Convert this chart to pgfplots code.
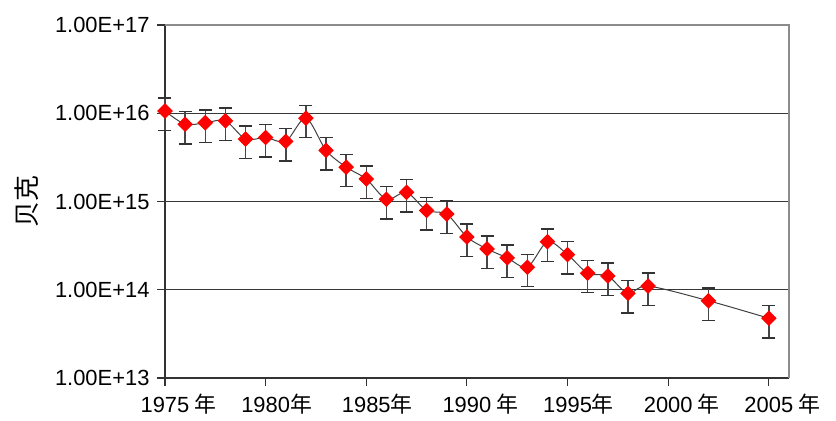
\documentclass[border=0pt]{standalone}
\usepackage{fontspec}
\setmainfont{Liberation Sans}
\newfontfamily\cjk{Noto Sans CJK SC}
\usepackage{pgfplots}
\pgfplotsset{compat=1.18}
\usepackage{pgfplotstable}

\pgfplotstableread{
x y e
1975 1.06e16 0.4
1976 7.5e15 0.4
1977 7.8e15 0.4
1978 8.2e15 0.4
1979 5.1e15 0.4
1980 5.3e15 0.4
1981 4.8e15 0.4
1982 8.8e15 0.4
1983 3.8e15 0.4
1984 2.45e15 0.4
1985 1.8e15 0.4
1986 1.06e15 0.4
1987 1.27e15 0.4
1988 7.9e14 0.4
1989 7.2e14 0.4
1990 3.96e14 0.4
1991 2.9e14 0.4
1992 2.3e14 0.4
1993 1.8e14 0.4
1994 3.5e14 0.4
1995 2.5e14 0.4
1996 1.54e14 0.4
1997 1.43e14 0.4
1998 9.1e13 0.4
1999 1.1e14 0.4
2002 7.5e13 0.4
2005 4.75e13 0.4
}\data

\begin{document}
\begin{tikzpicture}
\useasboundingbox (-165bp,-43bp) rectangle (671bp,378bp);
\begin{axis}[
  at={(0,0)}, anchor=south west,
  scale only axis, width=624bp, height=353bp,
  ymode=log, xmin=1975, xmax=2006, ymin=1e13, ymax=1e17,
  axis x line*=bottom, axis y line*=left,
  axis line style={line width=1.4bp, color=black!80},
  xtick={1975,1980,1985,1990,1995,2000,2005},
  xticklabels={1975\rlap{\cjk\ 年},1980\rlap{\cjk 年},1985\rlap{\cjk 年},1990\rlap{\cjk\ 年},1995\rlap{\cjk 年},2000\rlap{\cjk\ 年},2005\rlap{\cjk\ 年}},
  ytick={1e13,1e14,1e15,1e16,1e17},
  yticklabels={1.00E+13,1.00E+14,1.00E+15,1.00E+16,1.00E+17},
  yminorticks=false,
  ymajorgrids, grid style={line width=1.4bp, color=black!78},
  tick style={line width=1.1bp, color=black!80},
  major tick length=8bp,
  tick align=outside,
  ticklabel style={font=\fontsize{22}{26}\selectfont},
  x tick label style={yshift=-5bp},
  y tick label style={xshift=-4bp},
  ylabel={\cjk 贝克},
  ylabel style={font=\fontsize{26}{30}\selectfont, yshift=10bp},
  clip=false,
]
\addplot[draw=none, mark=none, forget plot,
  error bars/.cd, y dir=both, y explicit relative,
  error bar style={line width=1.5bp, color=black!72},
  error mark options={rotate=90, mark size=6.5bp, line width=1.4bp, color=black!80}]
  table[x=x, y=y, y error=e]{\data};
\addplot[color=black!75, line width=1bp, smooth,
  mark=square*, mark size=5bp,
  mark options={fill=red, draw=red, solid, rotate=45}]
  table[x=x, y=y]{\data};
\draw[color=black!45, line width=1.4bp] (rel axis cs:0,1) -- (rel axis cs:1,1) -- (rel axis cs:1,0);
\end{axis}
\end{tikzpicture}
\end{document}
